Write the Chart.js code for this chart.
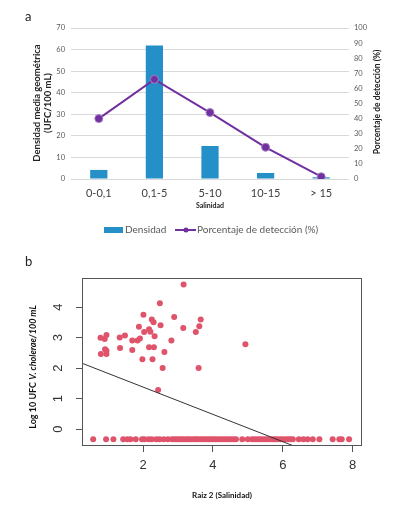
<!DOCTYPE html>
<html>
<head>
<meta charset="utf-8">
<script src="https://cdn.jsdelivr.net/npm/chart.js@4.4.1/dist/chart.umd.min.js"></script>
<style>
  body { margin: 0; background: #fff; }
  #wrap { position: relative; width: 393px; height: 508px; }
  canvas { position: absolute; left: 0; }
  #chartA { top: 0; }
  #chartB { top: 250px; }
</style>
</head>
<body>
<div id="wrap">
  <canvas id="chartA" width="393" height="250"></canvas>
  <canvas id="chartB" width="393" height="258"></canvas>
</div>
<script>
// panel a
const categorias = ['0-0,1', '0,1-5', '5-10', '10-15', '> 15'];
const densidad = [4.2, 61.9, 15.3, 2.8, 0.8];
const deteccion = [40, 66, 44, 21, 1.5];

// panel b
const salX = [0.78, 0.90, 0.95, 0.91, 0.95, 0.79, 0.95, 1.33, 1.48, 1.34, 1.69, 1.69, 1.84, 1.91,
  1.88, 2.01, 2.03, 2.17, 2.21, 2.25, 2.30, 2.33, 2.48, 2.50, 2.89, 2.81, 2.61, 2.17, 2.31,
  1.98, 2.27, 2.56, 2.43, 3.15, 3.51, 3.61, 3.65, 3.59, 3.16, 4.93];
const logUfc = [2.99, 2.95, 3.08, 2.62, 2.57, 2.46, 2.46, 3.00, 3.07, 2.66, 2.90, 2.59, 2.90, 2.97,
  3.35, 3.75, 3.18, 3.27, 3.19, 3.59, 3.50, 3.04, 4.12, 3.40, 3.67, 2.90, 2.53, 2.68, 2.68,
  2.29, 2.29, 2.00, 1.28, 3.31, 3.18, 3.37, 3.59, 2.00, 4.74, 2.78];
const noDetX = [0.57, 0.94, 1.15, 1.43, 1.55, 1.64, 1.79, 1.97, 2.04, 2.16, 2.25, 2.38, 2.47, 2.59,
  2.71, 2.83, 2.9, 2.97, 3.04, 3.1, 3.17, 3.25, 3.31, 3.38, 3.46, 3.52, 3.59, 3.66, 3.73, 3.8,
  3.87, 3.94, 4.01, 4.08, 4.15, 4.23, 4.3, 4.37, 4.44, 4.51, 4.59, 4.66, 4.84, 5.0, 5.12, 5.19,
  5.27, 5.34, 5.41, 5.49, 5.56, 5.63, 5.71, 5.78, 5.85, 5.93, 6.0, 6.08, 6.15, 6.22, 6.29,
  6.46, 6.59, 6.71, 6.86, 7.05, 7.43, 7.62, 7.69, 7.90];
const noDetY = -0.33;
const regX = [0.25, 6.32];
const regY = [2.16, -0.55];

const fontA = 'Lato, "Open Sans", sans-serif';

const titulosA = {
  id: 'titulosA',
  afterDraw(chart) {
    const ctx = chart.ctx;
    ctx.save();
    ctx.fillStyle = '#222';
    ctx.font = '13px ' + fontA;
    ctx.textAlign = 'left';
    ctx.textBaseline = 'middle';
    ctx.fillText('a', 25, 17);

    // left title
    ctx.save();
    ctx.translate(37, 103);
    ctx.rotate(-Math.PI / 2);
    ctx.textAlign = 'center';
    ctx.font = 'bold 9.5px ' + fontA;
    ctx.fillText('Densidad media geométrica', 0, 0);
    ctx.fillText('(UFC/100 mL)', 0, 11);
    ctx.restore();

    // right title
    ctx.save();
    ctx.translate(377, 102);
    ctx.rotate(-Math.PI / 2);
    ctx.textAlign = 'center';
    ctx.font = 'bold 8.5px ' + fontA;
    ctx.fillText('Porcentaje de detección (%)', 0, 0);
    ctx.restore();

    ctx.textAlign = 'center';
    ctx.font = 'bold 7px ' + fontA;
    ctx.fillText('Salinidad', 210, 206);

    // legend
    ctx.fillStyle = '#2590c8';
    ctx.fillRect(104, 227, 19, 6);
    ctx.strokeStyle = '#7030a0';
    ctx.lineWidth = 2;
    ctx.beginPath();
    ctx.moveTo(175, 230);
    ctx.lineTo(196, 230);
    ctx.stroke();
    ctx.fillStyle = '#7030a0';
    ctx.beginPath();
    ctx.arc(186, 230, 2.5, 0, Math.PI * 2);
    ctx.fill();
    ctx.fillStyle = '#595959';
    ctx.font = '10px ' + fontA;
    ctx.textAlign = 'left';
    ctx.fillText('Densidad', 125, 230);
    ctx.fillText('Porcentaje de detección (%)', 197, 230);
    ctx.restore();
  }
};

new Chart(document.getElementById('chartA'), {
  data: {
    labels: categorias,
    datasets: [{
      type: 'line',
      label: 'Porcentaje de detección (%)',
      data: deteccion,
      yAxisID: 'y1',
      borderColor: '#7030a0',
      borderWidth: 2,
      pointRadius: 4,
      pointBackgroundColor: '#7030a0',
      pointBorderColor: '#a57fc4',
      pointBorderWidth: 1,
      tension: 0,
      order: 0
    }, {
      type: 'bar',
      label: 'Densidad',
      data: densidad,
      yAxisID: 'y',
      backgroundColor: '#2590c8',
      categoryPercentage: 1,
      barPercentage: 0.31,
      order: 1
    }]
  },
  options: {
    responsive: false,
    animation: false,
    layout: { padding: { top: 28, left: 0, right: 0, bottom: 0 } },
    plugins: { legend: { display: false }, tooltip: { enabled: false } },
    scales: {
      x: {
        grid: { display: false, drawTicks: false },
        border: { display: false },
        ticks: { color: '#404040', font: { family: fontA, size: 11 }, padding: 8, maxRotation: 0 },
        afterFit: s => { s.height = 71; }
      },
      y: {
        position: 'left',
        min: 0, max: 70,
        ticks: { stepSize: 10, color: '#595959', font: { family: fontA, size: 7.5 }, padding: 6 },
        grid: { color: '#d9d9d9', drawTicks: false },
        border: { display: false },
        afterFit: s => { s.width = 71; }
      },
      y1: {
        position: 'right',
        min: 0, max: 100,
        ticks: { stepSize: 10, color: '#595959', font: { family: fontA, size: 7.5 }, padding: 5 },
        grid: { display: false, drawTicks: false },
        border: { display: false },
        afterFit: s => { s.width = 44; }
      }
    }
  },
  plugins: [titulosA]
});

const titulosB = {
  id: 'titulosB',
  afterDraw(chart) {
    const ctx = chart.ctx;
    const a = chart.chartArea;
    const ys = chart.scales.y;
    ctx.save();
    ctx.strokeStyle = '#555';
    ctx.lineWidth = 1;
    ctx.strokeRect(a.left + 0.5, a.top + 0.5, a.right - a.left - 1, a.bottom - a.top - 1);

    ctx.fillStyle = '#222';
    ctx.font = '13px ' + fontA;
    ctx.textBaseline = 'middle';
    ctx.fillText('b', 25, 12);

    // rotated y tick labels
    ctx.fillStyle = '#333';
    ctx.font = '13px "Liberation Sans", Arial, sans-serif';
    ctx.textAlign = 'center';
    [0, 1, 2, 3, 4].forEach(v => {
      ctx.save();
      ctx.translate(58, ys.getPixelForValue(v));
      ctx.rotate(-Math.PI / 2);
      ctx.fillText(String(v), 0, 0);
      ctx.restore();
    });

    // y title with italic part
    ctx.save();
    ctx.translate(33, 117);
    ctx.rotate(-Math.PI / 2);
    ctx.fillStyle = '#111';
    const f1 = 'bold 9px ' + fontA;
    const f2 = 'italic bold 9px ' + fontA;
    const t1 = 'Log 10 UFC ', t2 = 'V. cholerae/100 mL';
    ctx.font = f1; const w1 = ctx.measureText(t1).width;
    ctx.font = f2; const w2 = ctx.measureText(t2).width;
    let x0 = -(w1 + w2) / 2;
    ctx.textAlign = 'left';
    ctx.font = f1; ctx.fillText(t1, x0, 0);
    ctx.font = f2; ctx.fillText(t2, x0 + w1, 0);
    ctx.restore();

    ctx.textAlign = 'center';
    ctx.fillStyle = '#111';
    ctx.font = 'bold 8px ' + fontA;
    ctx.fillText('Raiz 2 (Salinidad)', (a.left + a.right) / 2, 245);
    ctx.restore();
  }
};

new Chart(document.getElementById('chartB'), {
  type: 'scatter',
  data: {
    datasets: [{
      type: 'line',
      data: regX.map((x, i) => ({ x: x, y: regY[i] })),
      borderColor: '#333',
      borderWidth: 1,
      pointRadius: 0,
      order: 0
    }, {
      data: salX.map((x, i) => ({ x: x, y: logUfc[i] })),
      backgroundColor: '#df536b',
      borderWidth: 0,
      pointRadius: 3,
      order: 1
    }, {
      data: noDetX.map(x => ({ x: x, y: noDetY })),
      backgroundColor: '#df536b',
      borderWidth: 0,
      pointRadius: 3,
      order: 1
    }]
  },
  options: {
    responsive: false,
    animation: false,
    layout: { padding: { top: 28, left: 0, right: 31, bottom: 0 } },
    plugins: { legend: { display: false }, tooltip: { enabled: false } },
    scales: {
      x: {
        type: 'linear',
        min: 0.25, max: 8.27,
        afterBuildTicks: s => { s.ticks = [2, 4, 6, 8].map(v => ({ value: v })); },
        ticks: { color: '#333', font: { family: '"Liberation Sans", Arial, sans-serif', size: 13 }, padding: 6 },
        grid: { drawOnChartArea: false, drawTicks: true, tickLength: 6, color: '#555' },
        border: { display: false },
        afterFit: s => { s.height = 62; }
      },
      y: {
        type: 'linear',
        min: -0.55, max: 4.95,
        afterBuildTicks: s => { s.ticks = [0, 1, 2, 3, 4].map(v => ({ value: v })); },
        ticks: { display: false },
        grid: { drawOnChartArea: false, drawTicks: true, tickLength: 6, color: '#555' },
        border: { display: false },
        afterFit: s => { s.width = 82; }
      }
    }
  },
  plugins: [titulosB]
});
</script>
</body>
</html>
